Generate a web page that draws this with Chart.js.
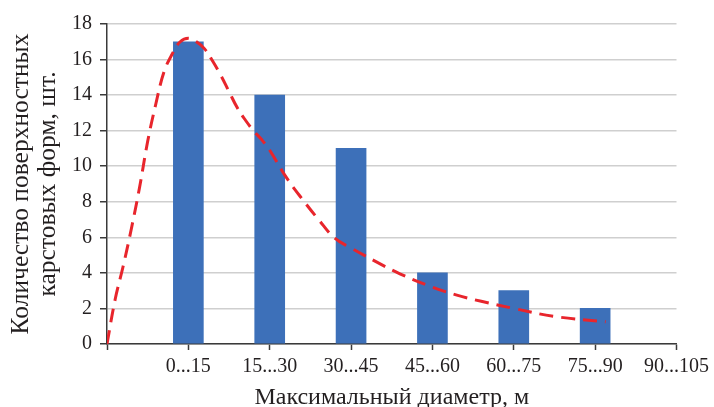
<!DOCTYPE html>
<html>
<head>
<meta charset="utf-8">
<script src="https://cdn.jsdelivr.net/npm/chart.js@4.4.1/dist/chart.umd.min.js"></script>
<style>
  body { margin: 0; background: #fff; }
  #wrap { width: 714px; height: 407px; }
  .fontload { font-family: 'Liberation Serif'; position: absolute; left: -999px; top: -999px; }
</style>
</head>
<body>
<div class="fontload">Количество 0...15</div>
<div id="wrap"><canvas id="mycanvas"></canvas></div>
<script>
// категории (ось X) и количество форм
const categories = ['', '0...15', '15...30', '30...45', '45...60', '60...75', '75...90', '90...105'];
const barPos = [1, 2, 3, 4, 5, 6];
const counts = [17, 14, 11, 4, 3, 2];

// пунктирная кривая
const curveX = [0, 0.1, 0.2, 0.3, 0.4, 0.5, 0.6, 0.7, 0.8, 0.9, 1.0, 1.1, 1.2, 1.3, 1.4, 1.5, 1.6, 1.7, 1.8, 1.9, 2.0, 2.2, 2.4, 2.6, 2.8, 3.0, 3.3, 3.6, 4.0, 4.3, 4.6, 5.0, 5.5, 6.13];
const curveY = [0, 2.5, 4.4, 6.5, 8.8, 11.4, 13.5, 15.3, 16.3, 17.0, 17.2, 17.0, 16.6, 15.9, 15.1, 14.2, 13.3, 12.6, 12.0, 11.5, 10.9, 9.4, 8.15, 7.0, 5.95, 5.4, 4.65, 3.95, 3.2, 2.75, 2.4, 2.0, 1.55, 1.25];

const yTicks = [0, 2, 4, 6, 8, 10, 12, 14, 16, 18];

const serif = "'Liberation Serif', 'DejaVu Serif', serif";
const textColor = '#231f20';
const axisColor = '#3a3a3a';

function draw() {
  new Chart(document.getElementById('mycanvas'), {
    type: 'bar',
    data: {
      datasets: [
        {
          type: 'line',
          data: curveX.map((x, i) => ({x: x, y: curveY[i]})),
          borderColor: '#e8252c',
          borderWidth: 3,
          borderDash: [14, 8],
          pointRadius: 0,
          tension: 0.4,
          fill: false,
          order: 0
        },
        {
          data: barPos.map((x, i) => ({x: x, y: counts[i]})),
          backgroundColor: '#3d70b9',
          barThickness: 30,
          order: 1
        }
      ]
    },
    options: {
      responsive: true,
      maintainAspectRatio: false,
      animation: false,
      layout: { padding: { left: 8, top: 24, right: 36, bottom: 0 } },
      plugins: { legend: { display: false }, tooltip: { enabled: false } },
      scales: {
        x: {
          type: 'linear',
          min: 0,
          max: 7,
          offset: false,
          grid: { offset: false, drawOnChartArea: false, drawTicks: true, tickLength: 6, tickColor: axisColor, tickWidth: 1.5 },
          border: { color: axisColor, width: 1.5 },
          ticks: {
            stepSize: 1,
            autoSkip: false,
            maxRotation: 0,
            padding: 5,
            color: textColor,
            font: { family: serif, size: 20 },
            callback: v => categories[v]
          },
          title: {
            display: true,
            text: 'Максимальный диаметр, м',
            color: textColor,
            padding: 0,
            font: { family: serif, size: 24, lineHeight: 0.8 }
          },
          afterFit: s => { s.height = 63; }
        },
        y: {
          min: 0,
          max: 18,
          afterBuildTicks: s => { s.ticks = yTicks.map(v => ({value: v})); },
          grid: { color: '#cfcfcf', lineWidth: 1.5, tickLength: 7, tickColor: axisColor, tickWidth: 1.5 },
          border: { color: axisColor, width: 1.5 },
          ticks: {
            padding: 8,
            color: textColor,
            font: { family: serif, size: 20 }
          },
          title: {
            display: true,
            text: ['Количество поверхностных', 'карстовых форм, шт.'],
            color: textColor,
            padding: 0,
            font: { family: serif, size: 25.5, lineHeight: 1.05 }
          },
          afterFit: s => { s.width = 99; }
        }
      }
    }
  });
}

if (document.fonts && document.fonts.load) {
  document.fonts.load("20px 'Liberation Serif'", 'Количество 0...15').then(draw, draw);
} else {
  draw();
}
</script>
</body>
</html>
